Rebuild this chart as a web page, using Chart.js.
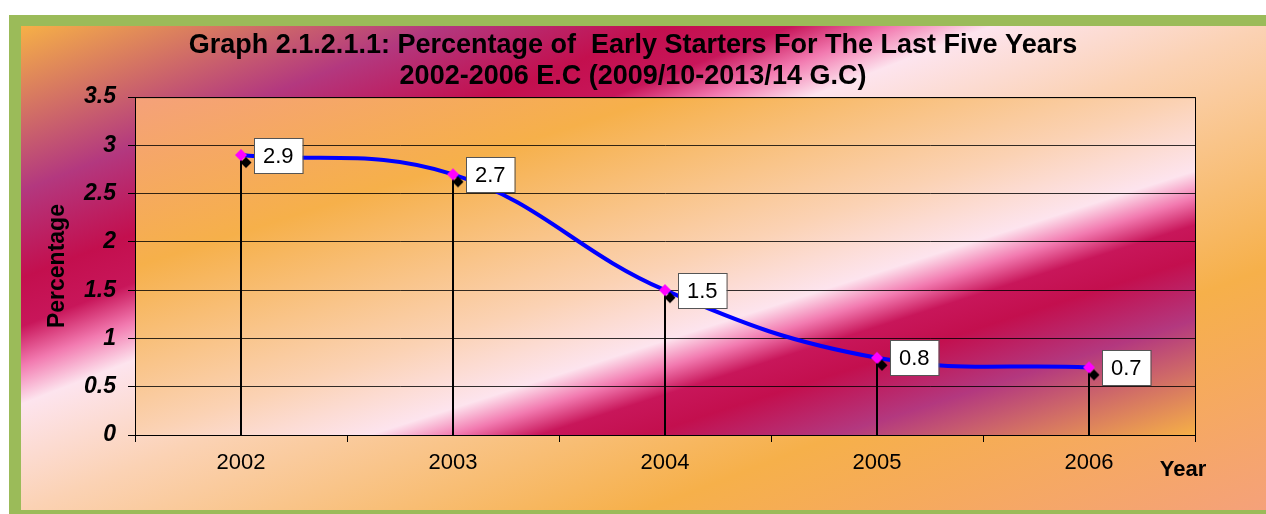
<!DOCTYPE html>
<html>
<head>
<meta charset="utf-8">
<script src="https://cdn.jsdelivr.net/npm/chart.js@4"></script>
<style>
  html, body { margin: 0; padding: 0; background: #fff; }
  #wrap { width: 1266px; height: 514px; position: relative; }
</style>
</head>
<body>
<div id="wrap"><canvas id="myChart"></canvas></div>
<script>
const years = ["2002", "2003", "2004", "2005", "2006"];
const percentages = [2.9, 2.7, 1.5, 0.8, 0.7];
const yTicks = [0, 0.5, 1, 1.5, 2, 2.5, 3, 3.5];
const titleLines = [
  "Graph 2.1.2.1.1: Percentage of  Early Starters For The Last Five Years",
  "2002-2006 E.C (2009/10-2013/14 G.C)",
];

const FONT = "Arial, 'Liberation Sans', sans-serif";

// "fire" style gradient stops, used for the frame and (reversed) for the plot
const fireStops = [
  [0, "#f6b047"],
  [0.17, "#b3387f"],
  [0.26, "#c30f4e"],
  [0.31, "#c8165a"],
  [0.35, "#f27ab0"],
  [0.39, "#fde4ee"],
  [0.5, "#fbd2b4"],
  [0.75, "#f6b04a"],
  [1, "#f5a17a"],
];

function markerImage() {
  const c = document.createElement("canvas");
  c.width = 30;
  c.height = 30;
  const g = c.getContext("2d");
  const diamond = (cx, cy, r, col) => {
    g.beginPath();
    g.moveTo(cx, cy - r);
    g.lineTo(cx + r, cy);
    g.lineTo(cx, cy + r);
    g.lineTo(cx - r, cy);
    g.closePath();
    g.fillStyle = col;
    g.fill();
  };
  diamond(20, 22.5, 5.5, "#000");
  diamond(15, 15, 6, "#ff00ff");
  return c;
}

const backdrop = {
  id: "backdrop",
  beforeDraw(chart) {
    const { ctx, width, height, chartArea: a } = chart;
    ctx.save();
    ctx.fillStyle = "#fff";
    ctx.fillRect(0, 0, width, height);
    ctx.fillStyle = "#9bbb59";
    ctx.fillRect(9, 15, width - 9, height - 15);

    const g = ctx.createLinearGradient(21, 26, 349, 868);
    fireStops.forEach(([o, c]) => g.addColorStop(o, c));
    ctx.fillStyle = g;
    ctx.fillRect(21, 26, width - 21, 510 - 26);

    const w = a.right - a.left, h = a.bottom - a.top;
    const k = (0.32 * w + h) / (1 + 0.32 * 0.32);
    const p = ctx.createLinearGradient(a.right, a.bottom, a.right - 0.32 * k, a.bottom - k);
    fireStops.forEach(([o, c]) => p.addColorStop(o, c));
    ctx.fillStyle = p;
    ctx.fillRect(a.left, a.top, w, h);
    ctx.restore();
  },
  beforeDatasetsDraw(chart) {
    const { ctx, chartArea: a } = chart;
    ctx.save();
    ctx.strokeStyle = "#000";
    ctx.lineWidth = 1;
    ctx.strokeRect(a.left + 0.5, a.top + 0.5, a.right - a.left, a.bottom - a.top);
    // drop lines
    ctx.lineWidth = 2;
    chart.getDatasetMeta(0).data.forEach((pt) => {
      ctx.beginPath();
      ctx.moveTo(pt.x, pt.y);
      ctx.lineTo(pt.x, a.bottom);
      ctx.stroke();
    });
    ctx.restore();
  },
  afterDatasetsDraw(chart) {
    const { ctx, chartArea: a } = chart;
    ctx.save();
    ctx.font = "22px " + FONT;
    chart.getDatasetMeta(0).data.forEach((pt, i) => {
      const txt = String(percentages[i]);
      const bw = ctx.measureText(txt).width + 18;
      const bh = 35;
      const x = Math.round(pt.x + 13), y = Math.round(pt.y - bh / 2);
      ctx.fillStyle = "#fff";
      ctx.fillRect(x, y, bw, bh);
      ctx.strokeStyle = "#555";
      ctx.lineWidth = 1;
      ctx.strokeRect(x + 0.5, y + 0.5, bw, bh);
      ctx.fillStyle = "#000";
      ctx.textAlign = "center";
      ctx.textBaseline = "middle";
      ctx.fillText(txt, x + bw / 2, y + bh / 2 + 1);
    });
    ctx.font = "bold 22px " + FONT;
    ctx.textAlign = "center";
    ctx.textBaseline = "middle";
    ctx.fillStyle = "#000";
    ctx.fillText("Year", a.right - 12, a.bottom + 35);
    ctx.restore();
  },
};

const ctx = document.getElementById("myChart").getContext("2d");

new Chart(ctx, {
  type: "line",
  data: {
    labels: years,
    datasets: [
      {
        label: "Percentage",
        data: percentages,
        borderColor: "#0000ff",
        borderWidth: 4,
        tension: 0.4,
        fill: false,
        pointStyle: markerImage(),
        pointRadius: 6,
      },
    ],
  },
  options: {
    responsive: true,
    maintainAspectRatio: false,
    animation: false,
    layout: { padding: { left: 30, right: 30, top: 30, bottom: 4 } },
    plugins: {
      legend: { display: false },
      tooltip: { enabled: false },
      title: {
        display: true,
        text: titleLines,
        color: "#000",
        font: { family: FONT, size: 27, weight: "bold", lineHeight: 1.15 },
        padding: { top: 0, bottom: 5 },
      },
    },
    scales: {
      x: {
        type: "category",
        offset: true,
        grid: { display: true, offset: true, drawOnChartArea: false, drawTicks: true, tickLength: 7, color: "#000" },
        border: { display: true, color: "#000", width: 1 },
        ticks: { color: "#000", font: { family: FONT, size: 22 }, padding: 8 },
        afterFit(s) { s.height = 75; },
      },
      y: {
        min: 0,
        max: 3.5,
        afterBuildTicks(s) { s.ticks = yTicks.map((v) => ({ value: v })); },
        grid: { color: "rgba(0,0,0,0.8)", lineWidth: 1, tickLength: 7, tickColor: "#000" },
        border: { display: true, color: "#000", width: 1 },
        ticks: {
          color: "#000",
          font: { family: FONT, size: 23, weight: "bold", style: "italic" },
          padding: 12,
          callback: (v) => String(v),
        },
        title: {
          display: true,
          text: "Percentage",
          color: "#000",
          font: { family: FONT, size: 23, weight: "bold" },
          padding: { top: 14, bottom: 0 },
        },
        afterFit(s) { s.width = 105; },
      },
      y2: {
        position: "right",
        display: true,
        grid: { display: false, drawTicks: false },
        border: { display: false },
        ticks: { display: false },
        afterFit(s) { s.width = 41; },
      },
    },
  },
  plugins: [backdrop],
});
</script>
</body>
</html>
